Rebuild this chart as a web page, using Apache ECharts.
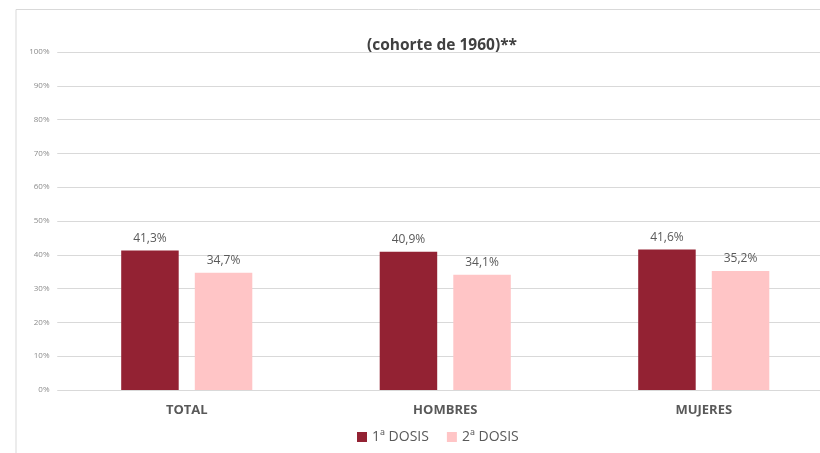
<!DOCTYPE html>
<html>
<head>
<meta charset="utf-8">
<script src="https://cdn.jsdelivr.net/npm/echarts@6/dist/echarts.min.js"></script>
<style>html,body{margin:0;padding:0;background:#fff;}#c{width:820px;height:453px;}</style>
</head>
<body>
<div id="c"></div>
<script>
const titleText = "(cohorte de 1960)**";
const categories = ["TOTAL", "HOMBRES", "MUJERES"];
const seriesNames = ["1ª DOSIS", "2ª DOSIS"];
const dosis1 = [41.3, 40.9, 41.6];
const dosis2 = [34.7, 34.1, 35.2];
const yTicks = [0, 10, 20, 30, 40, 50, 60, 70, 80, 90, 100];

const font = "'Open Sans', 'Liberation Sans', sans-serif";
const fmt = v => v.toFixed(1).replace('.', ',') + '%';
const chart = echarts.init(document.getElementById('c'), null, {renderer: 'canvas'});
chart.setOption({
  animation: false,
  backgroundColor: '#fff',
  title: {
    text: titleText, left: 437, top: 33, textAlign: 'center',
    textStyle: {fontFamily: font, fontSize: 15.5, fontWeight: 'bold', color: '#404040'}
  },
  graphic: [{
    type: 'polyline', silent: true,
    shape: {points: [[16, 460], [16, 9.5], [830, 9.5]]},
    style: {stroke: '#d9d9d9', lineWidth: 1, fill: null}
  }],
  legend: {
    bottom: 4, left: 352,
    itemWidth: 10, itemHeight: 10, itemGap: 18,
    icon: 'rect',
    textStyle: {fontFamily: font, fontSize: 14, color: '#595959'},
    data: seriesNames
  },
  grid: [
    {left: 57.5, right: -13, top: 52, bottom: 63, outerBoundsMode: 'none'},
    {left: 57.5, right: 0, top: 52, bottom: 63, outerBoundsMode: 'none', z: 0}
  ],
  xAxis: [
    {
      type: 'category', data: categories, gridIndex: 0,
      axisLine: {show: false}, axisTick: {show: false},
      axisLabel: {fontFamily: font, fontSize: 13, fontWeight: 'bold', color: '#595959', margin: 14}
    },
    {type: 'value', gridIndex: 1, show: false}
  ],
  yAxis: [
    {
      type: 'value', gridIndex: 0, min: yTicks[0], max: yTicks[yTicks.length - 1], interval: 10,
      axisLine: {show: false}, axisTick: {show: false},
      axisLabel: {fontFamily: font, fontSize: 8, color: '#8c8c8c', margin: 8, formatter: v => v + '%'},
      splitLine: {lineStyle: {color: '#d9d9d9', width: 1}}
    },
    {
      type: 'value', gridIndex: 1, min: yTicks[0], max: yTicks[yTicks.length - 1], interval: 10,
      axisLine: {show: false}, axisTick: {show: false}, axisLabel: {show: false},
      splitLine: {lineStyle: {color: '#d9d9d9', width: 1}}
    }
  ],
  series: [
    {
      name: seriesNames[0], type: 'bar', data: dosis1, barWidth: 57.5, barGap: '28%',
      itemStyle: {color: '#932233'},
      label: {show: true, position: 'top', distance: 6, formatter: p => fmt(p.value),
        fontFamily: font, fontSize: 12, color: '#595959'}
    },
    {
      name: seriesNames[1], type: 'bar', data: dosis2, barWidth: 57.5,
      itemStyle: {color: '#ffc5c6'},
      label: {show: true, position: 'top', distance: 6, formatter: p => fmt(p.value),
        fontFamily: font, fontSize: 12, color: '#595959'}
    }
  ]
});
</script>
</body>
</html>
